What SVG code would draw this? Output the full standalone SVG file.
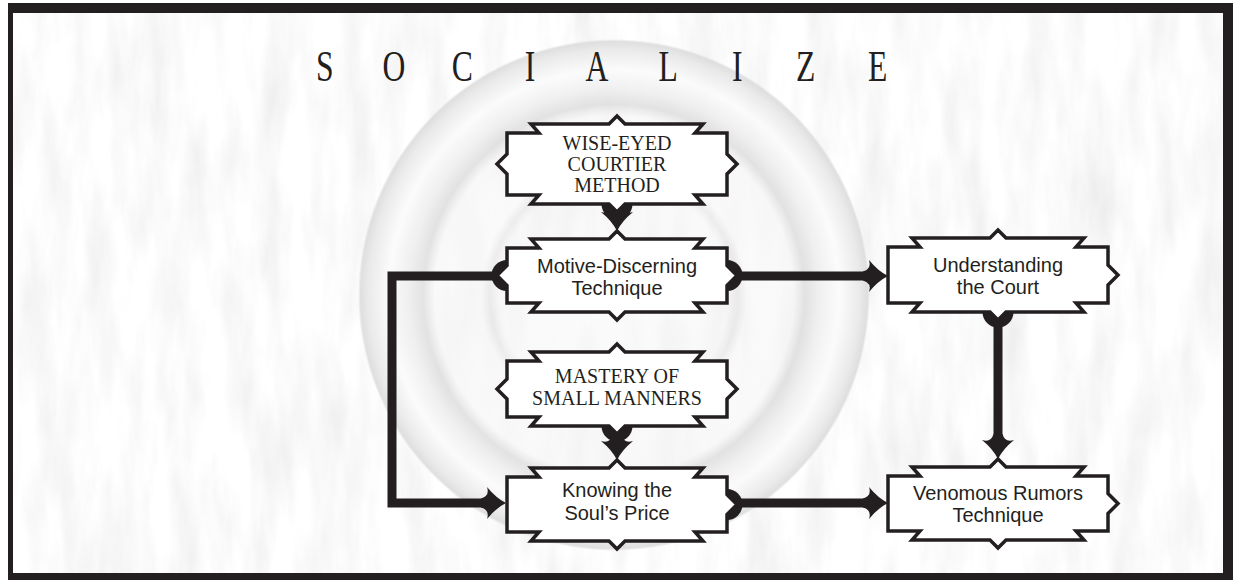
<svg xmlns="http://www.w3.org/2000/svg" width="1233" height="580" viewBox="0 0 1233 580">
  <defs>
    <style>
      .frame { fill: #231f20; }
      .node { fill: #ffffff; stroke: #231f20; stroke-width: 3.5; stroke-linejoin: miter; }
      .wire { fill: none; stroke: #231f20; stroke-width: 9; stroke-linejoin: miter; }
      .cap { fill: #231f20; }
      .head { fill: #231f20; }
      .lbl { font-family: "Liberation Sans", Arial, sans-serif; font-size: 20px; fill: #231f20; text-anchor: middle; }
      .caps { font-family: "Liberation Serif", "Times New Roman", serif; font-size: 20px; fill: #231f20; text-anchor: middle; }
      .title { font-family: "Liberation Serif", "Times New Roman", serif; font-size: 44px; fill: #231f20; text-anchor: middle; }
    </style>
    <filter id="paper" x="0" y="0" width="100%" height="100%">
      <feTurbulence type="fractalNoise" baseFrequency="0.035 0.008" numOctaves="4" seed="7"/>
      <feColorMatrix type="matrix" values="0.27 0 0 0 0.83  0.27 0 0 0 0.83  0.27 0 0 0 0.83  0 0 0 0 1"/>
    </filter>
    <radialGradient id="ring" gradientUnits="userSpaceOnUse" cx="614" cy="295" r="256">
      <stop offset="0" stop-color="#f7f7f7" stop-opacity="0.5"/>
      <stop offset="0.45" stop-color="#f4f4f4" stop-opacity="0.55"/>
      <stop offset="0.485" stop-color="#e2e2e2" stop-opacity="0.6"/>
      <stop offset="0.52" stop-color="#f8f8f8" stop-opacity="0.65"/>
      <stop offset="0.70" stop-color="#f6f6f6" stop-opacity="0.7"/>
      <stop offset="0.745" stop-color="#dcdcdc" stop-opacity="0.8"/>
      <stop offset="0.80" stop-color="#eeeeee" stop-opacity="0.9"/>
      <stop offset="0.88" stop-color="#fbfbfb" stop-opacity="0.9"/>
      <stop offset="0.96" stop-color="#e8e8e8" stop-opacity="0.9"/>
      <stop offset="0.99" stop-color="#dadada" stop-opacity="0.85"/>
      <stop offset="1" stop-color="#dadada" stop-opacity="0"/>
    </radialGradient>
    <!-- star-shaped arrowhead, tip at origin, pointing along +x -->
    <path id="ah" class="head" d="M0,0 Q-10,-5 -19,-16 Q-16,-7 -25,-4.5 L-25,4.5 Q-16,7 -19,16 Q-10,5 0,0 Z"/>
  </defs>

  <!-- frame and paper -->
  <rect class="frame" x="8" y="3" width="1225" height="577"/>
  <rect x="13" y="13" width="1210" height="560" fill="#f6f6f6"/>
  <rect x="13" y="13" width="1210" height="560" filter="url(#paper)"/>

  <!-- shaded ring -->
  <circle cx="614" cy="295" r="256" fill="url(#ring)"/>

  <!-- title -->
  <g transform="scale(0.72,1)">
    <text class="title" x="451 547 642 736 829 928 1024 1119 1219" y="81">SOCIALIZE</text>
  </g>

  <!-- connectors -->
  <g id="connectors">
    <circle class="cap" cx="617" cy="204" r="15.5"/>
    <path class="wire" d="M617,204 V222"/>
    <use href="#ah" transform="translate(617,231) rotate(90)"/>

    <circle class="cap" cx="727" cy="275.5" r="15.5"/>
    <path class="wire" d="M727,276 H870"/>
    <use href="#ah" transform="translate(888,276)"/>

    <circle class="cap" cx="507" cy="275.5" r="15.5"/>
    <path class="wire" d="M507,276 H392 V503 H487"/>
    <use href="#ah" transform="translate(506,503)"/>

    <circle class="cap" cx="998" cy="312" r="15.5"/>
    <path class="wire" d="M998,312 V442"/>
    <use href="#ah" transform="translate(998,459) rotate(90)"/>

    <circle class="cap" cx="617" cy="426" r="15.5"/>
    <path class="wire" d="M617,426 V444"/>
    <use href="#ah" transform="translate(617,460) rotate(90)"/>

    <circle class="cap" cx="727" cy="504.5" r="15.5"/>
    <path class="wire" d="M727,503 H870"/>
    <use href="#ah" transform="translate(888,503)"/>
  </g>

  <!-- nodes -->
  <g id="wise-eyed">
    <path class="node" d="M507,133 H539 L531,124 H609 L617,116 L625,124 H703 L695,133 H727 V154 L737,164 L727,174 V195 H695 L703,204 H625 L617,212 L609,204 H531 L539,195 H507 V174 L497,164 L507,154 Z"/>
    <text class="caps" x="617" y="150">WISE-EYED</text>
    <text class="caps" x="617" y="171">COURTIER</text>
    <text class="caps" x="617" y="192">METHOD</text>
  </g>

  <g id="motive-discerning">
    <path class="node" d="M507,248 H539 L531,239 H609 L617,231 L625,239 H703 L695,248 H727 V265.5 L737,275.5 L727,285.5 V303 H695 L703,312 H625 L617,320 L609,312 H531 L539,303 H507 V285.5 L497,275.5 L507,265.5 Z"/>
    <text class="lbl" x="617" y="273">Motive-Discerning</text>
    <text class="lbl" x="617" y="295">Technique</text>
  </g>

  <g id="understanding-court">
    <path class="node" d="M888,247 H920 L912,238 H990 L998,230 L1006,238 H1084 L1076,247 H1108 V265 L1118,275 L1108,285 V303 H1076 L1084,312 H1006 L998,320 L990,312 H912 L920,303 H888 Z"/>
    <text class="lbl" x="998" y="272">Understanding</text>
    <text class="lbl" x="998" y="294">the Court</text>
  </g>

  <g id="small-manners">
    <path class="node" d="M507,361 H539 L531,352 H609 L617,344 L625,352 H703 L695,361 H727 V379 L737,389 L727,399 V417 H695 L703,426 H625 L617,434 L609,426 H531 L539,417 H507 V399 L497,389 L507,379 Z"/>
    <text class="caps" x="617" y="383">MASTERY OF</text>
    <text class="caps" x="617" y="405">SMALL MANNERS</text>
  </g>

  <g id="souls-price">
    <path class="node" d="M507,477 H539 L531,468 H609 L617,460 L625,468 H703 L695,477 H727 V494.5 L737,504.5 L727,514.5 V532 H695 L703,541 H625 L617,549 L609,541 H531 L539,532 H507 Z"/>
    <text class="lbl" x="617" y="497">Knowing the</text>
    <text class="lbl" x="617" y="520">Soul’s Price</text>
  </g>

  <g id="venomous-rumors">
    <path class="node" d="M888,476 H920 L912,467 H990 L998,459 L1006,467 H1084 L1076,476 H1108 V493.5 L1118,503.5 L1108,513.5 V531 H1076 L1084,540 H1006 L998,548 L990,540 H912 L920,531 H888 Z"/>
    <text class="lbl" x="998" y="500">Venomous Rumors</text>
    <text class="lbl" x="998" y="522">Technique</text>
  </g>
</svg>
